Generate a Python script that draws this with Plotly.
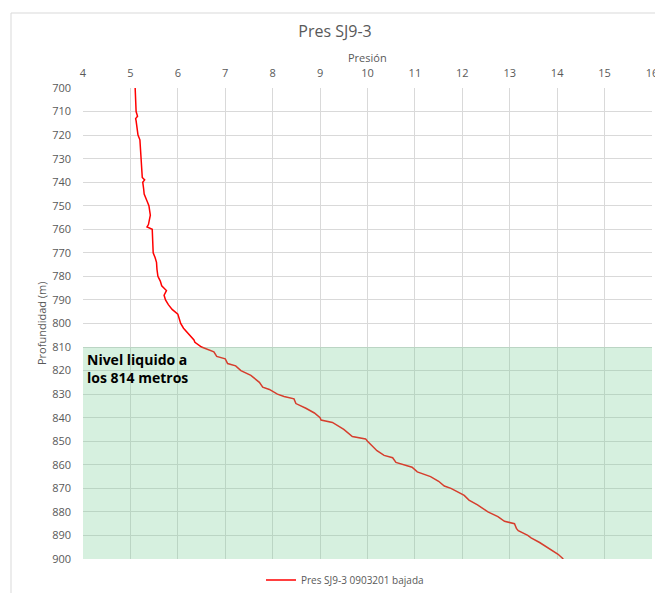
import plotly.graph_objects as go

# Pressure log, well SJ9-3 (descent run)
depth_m = [700, 704, 708, 710, 712, 713, 714, 718, 720, 722, 726, 730, 734, 738, 739,
           740, 743, 745, 748, 750, 754, 758, 759, 760, 765, 770, 772, 774, 777, 780,
           782, 784, 786, 788, 790, 792, 794, 796, 798, 800, 802, 804, 806, 807, 808,
           810, 812, 813, 814, 815, 817, 818, 820, 822, 825, 827, 828, 830, 831, 832,
           834, 836, 838, 840, 841, 842, 845, 848, 849, 850, 852, 854, 856, 857, 859,
           860, 861, 863, 865, 867, 869, 870, 872, 873, 875, 877, 880, 882, 884, 885,
           887, 888, 890, 891, 893, 895, 897, 898, 900]
pressure = [5.10, 5.11, 5.13, 5.12, 5.15, 5.11, 5.12, 5.14, 5.16, 5.20, 5.21, 5.23, 5.24, 5.25, 5.30,
            5.26, 5.28, 5.29, 5.35, 5.39, 5.42, 5.38, 5.35, 5.46, 5.47, 5.48, 5.52, 5.55, 5.56, 5.58,
            5.63, 5.66, 5.76, 5.71, 5.74, 5.80, 5.88, 6.00, 6.03, 6.06, 6.12, 6.20, 6.28, 6.34, 6.36,
            6.50, 6.76, 6.80, 6.82, 7.00, 7.05, 7.22, 7.33, 7.54, 7.72, 7.79, 7.93, 8.10, 8.24, 8.45,
            8.49, 8.70, 8.88, 9.00, 9.02, 9.26, 9.50, 9.68, 9.96, 10.00, 10.10, 10.20, 10.35, 10.53, 10.60,
            10.80, 10.94, 11.05, 11.33, 11.50, 11.62, 11.76, 11.94, 12.04, 12.14, 12.32, 12.54, 12.75, 12.89, 13.10,
            13.14, 13.18, 13.38, 13.45, 13.63, 13.78, 13.95, 14.02, 14.13]

series_name = "Pres SJ9-3 0903201 bajada"
liquid_top = 810
liquid_label = "Nivel liquido a<br>los 814 metros"

x_range = [4, 16]
y_range = [900, 700]

W, H = 655, 593
ML, MR, MT, MB = 83, 3, 88, 34
PW, PH = W - ML - MR, H - MT - MB

def px_x(px):
    return (px - ML) / PW

def px_y(py):
    return (H - MB - py) / PH

font_family = "Open Sans, Liberation Sans, sans-serif"
grey = "#595959"
grid = "#d9d9d9"

fig = go.Figure()
fig.add_trace(go.Scatter(
    x=pressure, y=depth_m, mode="lines", name=series_name,
    line=dict(color="#ff0000", width=1.5),
))

fig.update_layout(
    width=W, height=H,
    margin=dict(l=ML, r=MR, t=MT, b=MB, autoexpand=False),
    paper_bgcolor="white", plot_bgcolor="white",
    font=dict(family=font_family, color=grey, size=11),
    title=dict(text="Pres SJ9-3", x=335 / W, xanchor="center", y=1 - 31 / H,
               yanchor="middle", font=dict(size=16, color=grey)),
    showlegend=True,
    legend=dict(orientation="h", x=px_x(345), xanchor="center",
                y=px_y(580), yanchor="middle", font=dict(size=10, color=grey),
                bgcolor="rgba(0,0,0,0)"),
    xaxis=dict(range=x_range, dtick=1, side="top", showgrid=True, gridcolor=grid,
               gridwidth=1, zeroline=False, showline=False, ticks="", tickangle=0,
               automargin=False, ticklabelstandoff=8, ticklabeloverflow="allow",
               tickfont=dict(size=11, color=grey)),
    yaxis=dict(range=y_range, dtick=10, showgrid=True, gridcolor=grid, gridwidth=1,
               zeroline=False, showline=False, ticks="", automargin=False,
               ticklabelstandoff=11, ticklabeloverflow="allow",
               tickfont=dict(size=11, color=grey)),
    shapes=[
        # chart frame
        dict(type="rect", xref="paper", yref="paper",
             x0=px_x(11), x1=px_x(656), y0=px_y(600), y1=px_y(13),
             line=dict(color=grid, width=1), fillcolor="rgba(0,0,0,0)", layer="below"),
        # liquid column band
        dict(type="rect", xref="x", yref="y", x0=x_range[0], x1=x_range[1],
             y0=liquid_top, y1=y_range[0], line=dict(width=0),
             fillcolor="rgba(120,205,150,0.3)", layer="above"),
    ],
    annotations=[
        dict(text="Presión", xref="paper", yref="paper", x=0.5, y=px_y(57),
             xanchor="center", yanchor="middle", showarrow=False,
             font=dict(size=11, color=grey)),
        dict(text="Profundidad (m)", xref="paper", yref="paper", x=px_x(41),
             y=px_y(323), xanchor="center", yanchor="middle", textangle=-90,
             showarrow=False, font=dict(size=11, color=grey)),
        dict(text="<b>" + liquid_label + "</b>", xref="x", yref="y", x=4.05,
             y=liquid_top + 0.5, xanchor="left", yanchor="top", align="left",
             showarrow=False, font=dict(size=14, color="black")),
    ],
)

fig.write_html("out.html")
